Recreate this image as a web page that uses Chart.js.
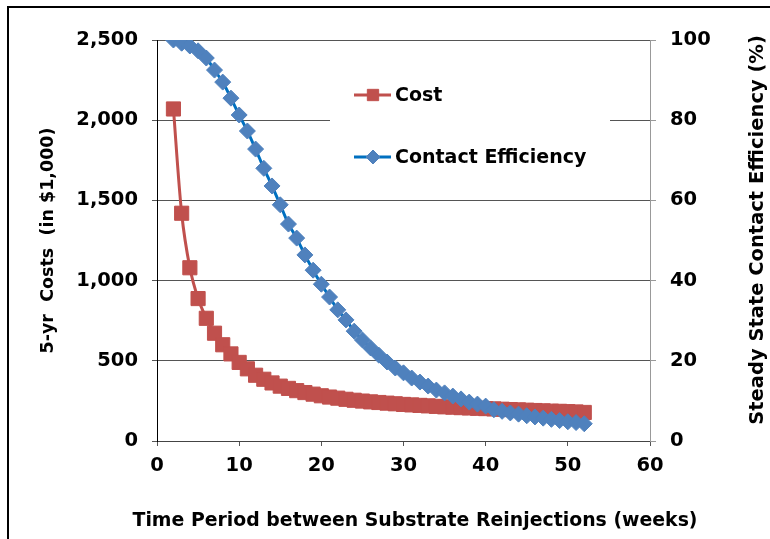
<!DOCTYPE html>
<html>
<head>
<meta charset="utf-8">
<script src="https://cdn.jsdelivr.net/npm/chart.js@4.4.1/dist/chart.umd.min.js"></script>
<style>
  html, body { margin: 0; padding: 0; background: #fff; }
  #wrap { position: relative; width: 770px; height: 539px; overflow: hidden; }
  #frame { position: absolute; left: 7px; top: 6px; width: 800px; height: 600px;
           border: 2px solid #000; pointer-events: none; }
</style>
</head>
<body>
<div id="wrap">
  <canvas id="chart" width="770" height="539"></canvas>
  <div id="frame"></div>
</div>
<script>
// weeks between reinjections
const weeks = [2, 3, 4, 5, 6, 7, 8, 9, 10, 11, 12, 13, 14, 15, 16, 17, 18, 19, 20, 21,
  22, 23, 24, 25, 26, 27, 28, 29, 30, 31, 32, 33, 34, 35, 36, 37, 38, 39, 40, 41,
  42, 43, 44, 45, 46, 47, 48, 49, 50, 51, 52];

// 5-yr costs (in $1,000)
const costValues = [2070, 1420, 1080, 888, 765, 672, 600, 543, 490, 450, 410, 385, 362, 342,
  328, 314, 302, 292, 282, 274, 267, 260, 254, 249, 244, 240, 236, 232, 228, 225, 222, 219,
  216, 213, 211, 208, 206, 204, 202, 200, 198, 196, 194, 192, 190, 188, 186, 185, 183, 181, 178];

// steady state contact efficiency (%)
const efficiencyValues = [100, 99.2, 98.5, 97.3, 95.5, 92.5, 89.5, 85.5, 81.3, 77.3, 72.8, 68,
  63.6, 58.9, 54.1, 50.6, 46.4, 42.6, 39.1, 35.9, 32.7, 30.2, 27.4, 25.2, 23.2, 21.4, 19.7,
  18.2, 17, 15.7, 14.7, 13.7, 12.7, 12, 11.2, 10.5, 9.7, 9.2, 8.7, 7.8, 7.4, 7.0, 6.7, 6.3,
  6.0, 5.7, 5.4, 5.1, 4.8, 4.6, 4.3];

const seriesNames = ['Cost', 'Contact Efficiency'];
const xTitle = 'Time Period between Substrate Reinjections (weeks)';
const rightTitle = 'Steady State Contact Efficiency (%)';

const red = '#C0504D';
const blueMarker = '#4F81BD';
const blueLine = '#0070C0';
const fontFamily = '"DejaVu Sans", "Open Sans", sans-serif';

function toPoints(xs, ys) {
  return xs.map((x, i) => ({ x: x, y: ys[i] }));
}

// legend drawn inside the plot area, on a white box covering the grid
const insideLegend = {
  id: 'insideLegend',
  beforeDatasetsDraw(chart) {
    const ctx = chart.ctx;
    ctx.save();
    ctx.fillStyle = '#fff';
    ctx.fillRect(330, 66, 280, 118);

    const rows = [
      { y: 95, color: red, marker: red, style: 'rect', r: 8 },
      { y: 157, color: blueLine, marker: blueMarker, style: 'rectRot', r: 7 }
    ];
    rows.forEach((row, i) => {
      ctx.strokeStyle = row.color;
      ctx.lineWidth = 3;
      ctx.beginPath();
      ctx.moveTo(354, row.y);
      ctx.lineTo(391, row.y);
      ctx.stroke();
      ctx.fillStyle = row.marker;
      ctx.strokeStyle = row.marker;
      ctx.lineWidth = 1;
      Chart.helpers.drawPoint(ctx, { pointStyle: row.style, radius: row.r, borderWidth: 1 }, 373, row.y);
      ctx.fillStyle = '#000';
      ctx.font = 'bold 19px ' + fontFamily;
      ctx.textBaseline = 'middle';
      ctx.textAlign = 'left';
      ctx.fillText(seriesNames[i], 395, row.y + 1);
    });
    ctx.restore();
  },
  afterDraw(chart) {
    const ctx = chart.ctx;
    ctx.fillStyle = '#000';
    ctx.textAlign = 'center';
    ctx.textBaseline = 'middle';

    // right axis title reads bottom-to-top, like the left one
    ctx.save();
    ctx.translate(758, 230);
    ctx.rotate(-Math.PI / 2);
    ctx.font = 'bold 19.5px ' + fontFamily;
    ctx.fillText(rightTitle, 0, 0);
    ctx.restore();

    // x axis title is wider than the plot, so it is drawn here (the scale would squeeze it)
    ctx.save();
    ctx.font = 'bold 19px ' + fontFamily;
    const w = ctx.measureText(xTitle).width;
    ctx.translate(415, 521);
    ctx.scale(565 / w, 1);
    ctx.fillText(xTitle, 0, 0);
    ctx.restore();
  }
};

new Chart(document.getElementById('chart'), {
  type: 'line',
  data: {
    datasets: [
      {
        label: seriesNames[0],
        data: toPoints(weeks, costValues),
        yAxisID: 'y',
        borderColor: red,
        backgroundColor: red,
        borderWidth: 3,
        pointStyle: 'rect',
        pointRadius: 10,
        pointBorderWidth: 1,
        pointBorderColor: red,
        tension: 0.3,
        order: 2
      },
      {
        label: seriesNames[1],
        data: toPoints(weeks, efficiencyValues),
        yAxisID: 'y1',
        borderColor: blueLine,
        backgroundColor: blueMarker,
        borderWidth: 3,
        pointStyle: 'rectRot',
        pointRadius: 8,
        pointBorderWidth: 1,
        pointBorderColor: blueMarker,
        tension: 0.2,
        order: 1
      }
    ]
  },
  options: {
    responsive: false,
    animation: false,
    layout: { padding: { top: 40, left: 38, right: 0, bottom: 0 } },
    plugins: {
      legend: { display: false },
      tooltip: { enabled: false }
    },
    scales: {
      x: {
        type: 'linear',
        min: 0,
        max: 60,
        afterFit: s => { s.height = 98; },
        ticks: {
          stepSize: 10,
          color: '#000',
          padding: 8,
          font: { family: fontFamily, size: 19.5, weight: 'bold' }
        },
        grid: { display: true, drawOnChartArea: false, tickLength: 5, color: '#555' },
        border: { color: '#444', width: 1 },
        title: { display: false }
      },
      y: {
        position: 'left',
        min: 0,
        max: 2500,
        afterFit: s => { s.width = 157 - 38; },
        ticks: {
          stepSize: 500,
          color: '#000',
          padding: 14,
          callback: v => v.toLocaleString('en-US'),
          font: { family: fontFamily, size: 19.5, weight: 'bold' }
        },
        grid: { color: '#555', tickLength: 5 },
        border: { color: '#000', width: 1 },
        title: {
          display: true,
          text: '5-yr  Costs  (in $1,000)',
          color: '#000',
          padding: { top: 0, bottom: 0 },
          font: { family: fontFamily, size: 17.5, weight: 'bold' }
        }
      },
      y1: {
        position: 'right',
        min: 0,
        max: 100,
        afterFit: s => { s.width = 770 - 650; },
        ticks: {
          stepSize: 20,
          color: '#000',
          padding: 14,
          font: { family: fontFamily, size: 19.5, weight: 'bold' }
        },
        grid: { drawOnChartArea: false, tickLength: 6, color: '#999' },
        border: { color: '#999', width: 1 },
        title: { display: false }
      }
    }
  },
  plugins: [insideLegend]
});
</script>
</body>
</html>
